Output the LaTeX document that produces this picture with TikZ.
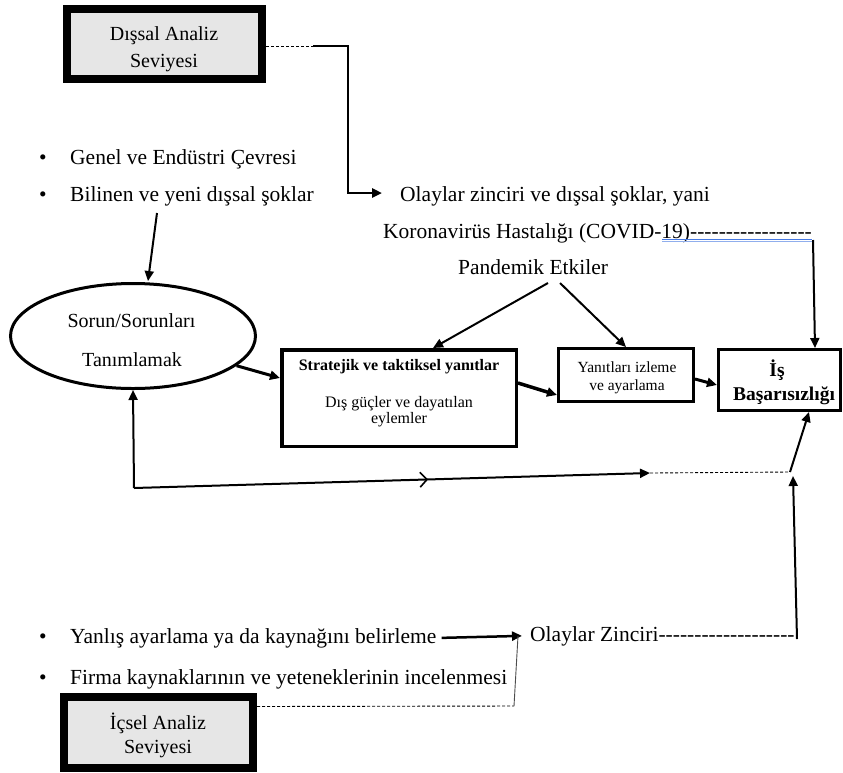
\documentclass[tikz,border=0pt]{standalone}
\usepackage{fontspec}
\setmainfont{Liberation Serif}
\usetikzlibrary{arrows.meta,shapes.geometric,decorations.markings}
\definecolor{boxgray}{RGB}{230,230,230}
\definecolor{ulblue}{RGB}{70,120,225}
\newcommand\hy{-\kern0pt}
\newcommand\fsz[1]{\fontsize{#1pt}{#1pt}\selectfont}
\begin{document}
\begin{tikzpicture}[x=1pt,y=-1pt,
  txt/.style={inner sep=0pt, anchor=base west, font=\fsz{21.5}},
  ctxt/.style={inner sep=0pt, anchor=base},
  bul/.style={inner sep=0pt, anchor=base, font=\fsz{21.5}},
  lvlbox/.style={draw, line width=8pt, fill=boxgray, inner sep=0pt},
  plainbox/.style={draw, line width=3pt, inner sep=0pt},
  arr/.style={-{Triangle[length=10pt,width=9pt]}, line width=2pt},
  dashline/.style={line width=0.9pt, dash pattern=on 3pt off 2pt},
  chevron/.style={postaction={decorate, decoration={markings,
      mark=at position #1 with {\arrow{Straight Barb[length=7pt,width=15pt,line width=1.6pt]}}}}},
]
\useasboundingbox (0,0) rectangle (843,772);

% level boxes
\node[lvlbox, minimum width=195pt, minimum height=70pt] (dis) at (164.5,44) {};
\node[ctxt, font=\fsz{20}] (disT1) at (164,40) {Dışsal Analiz};
\node[ctxt, font=\fsz{20}] (disT2) at (164,67) {Seviyesi};

\node[lvlbox, minimum width=189pt, minimum height=71pt] (ic) at (158.5,732.5) {};
\node[ctxt, font=\fsz{20}] (icT1) at (158,729) {İçsel Analiz};
\node[ctxt, font=\fsz{20}] (icT2) at (158,753) {Seviyesi};

% free texts
\node[bul] (b1) at (43,164) {•};
\node[txt] (g1) at (70,164) {Genel ve Endüstri Çevresi};
\node[bul] (b2) at (43,201) {•};
\node[txt] (g2) at (70,201) {Bilinen ve yeni dışsal şoklar};
\node[txt] (olay) at (400,201) {Olaylar zinciri ve dışsal şoklar, yani};
\node[txt] (covid) at (383,238) {Koronavirüs Hastalığı (COVID-19)\hy\hy\hy\hy\hy\hy\hy\hy\hy\hy\hy\hy\hy\hy\hy\hy\hy};
\node[txt] (pand) at (458,274) {Pandemik Etkiler};
\node[bul] (b3) at (43,643) {•};
\node[txt] (y1) at (70,643) {Yanlış ayarlama ya da kaynağını belirleme};
\node[txt] (oz) at (530,641) {Olaylar Zinciri\hy\hy\hy\hy\hy\hy\hy\hy\hy\hy\hy\hy\hy\hy\hy\hy\hy\hy\hy};
\node[bul] (b4) at (43,684) {•};
\node[txt] (y2) at (70,684) {Firma kaynaklarının ve yeteneklerinin incelenmesi};

% ellipse
\node[draw, ellipse, line width=3pt, minimum width=245pt, minimum height=105pt, inner sep=0pt] (sorun) at (133,336) {};
\node[ctxt, font=\fsz{20}] (sorunT1) at (131.5,327) {Sorun/Sorunları};
\node[ctxt, font=\fsz{20}] (sorunT2) at (132,366) {Tanımlamak};

% strategic box
\node[plainbox, line width=3.5pt, minimum width=234.5pt, minimum height=96.5pt] (strat) at (399,398) {};
\node[ctxt, font=\fsz{16}\bfseries] (stratT1) at (399,370) {Stratejik ve taktiksel yanıtlar};
\node[ctxt, font=\fsz{16}] (stratT2) at (399,407) {Dış güçler ve dayatılan};
\node[ctxt, font=\fsz{16}] (stratT3) at (399,423) {eylemler};

% monitoring box
\node[plainbox, minimum width=135pt, minimum height=53pt] (yan) at (626,375) {};
\node[ctxt, font=\fsz{15.5}] (yanT1) at (627,372) {Yanıtları izleme};
\node[ctxt, font=\fsz{15.5}] (yanT2) at (627,390) {ve ayarlama};

% business failure box
\node[plainbox, minimum width=122pt, minimum height=61pt] (is) at (779.5,380) {};
\node[ctxt, font=\fsz{19.5}\bfseries] (isT1) at (777,376) {İş};
\node[ctxt, font=\fsz{19.5}\bfseries] (isT2) at (784,400) {Başarısızlığı};

% coordinates
\coordinate (dA) at (327,46);
\coordinate (dB) at (313,46);
\coordinate (dC) at (348,46);
\coordinate (olayIn) at (382,193);
\coordinate (cvE) at (813,240);
\coordinate (fbL) at (134,488);
\coordinate (fbR) at (650,473);
\coordinate (fbC) at (790,472);
\coordinate (fbC2) at (793,476);
\coordinate (ozE) at (797,639);
\coordinate (icC) at (514,706);
\coordinate (ozIn) at (518,636);

% top connector
\draw[dashline] ([yshift=-2pt]dis.east) -- (dA);
\draw[arr, line width=2.5pt] (dB) -- (dC) |- (olayIn);

% blue underline
\draw[ulblue, line width=0.8pt] (662,239.2) -- (812,239.2);
\draw[ulblue!60, line width=0.8pt] (662,241.8) -- (812,241.8);

% arrows
\draw[arr] (157,213) -- (148,281);
\draw[arr] (548,283) -- ([xshift=34pt]strat.north);
\draw[arr] (560,283) -- (yan.north);
\draw[arr, line width=3pt] (sorun.-16) -- ([yshift=20pt]strat.west);
\draw[arr, line width=3.5pt] ([yshift=15pt]strat.east) -- ([yshift=-20pt]yan.west);
\draw[arr, line width=3pt] ([yshift=-4pt]yan.east) -- ([yshift=-5pt]is.west);
\draw[arr] (cvE) -- ([xshift=35.5pt]is.north);

% feedback loop
\draw[arr] (fbL) -- (sorun.south);
\draw[arr, chevron=0.57] (fbL) -- (fbR);
\draw[dashline] (fbR) -- (fbC);
\draw[arr] (fbC) -- ([xshift=29.5pt]is.south);
\draw[arr] (ozE) -- (fbC2);

% bottom connectors
\draw[arr, line width=2.5pt] ([xshift=5pt]y1.east) -- ([xshift=-8pt]oz.west);
\draw[dashline] ([yshift=26pt]ic.east) -- (icC);
\draw[line width=0.9pt, black!70] (icC) -- (ozIn);
\end{tikzpicture}
\end{document}
